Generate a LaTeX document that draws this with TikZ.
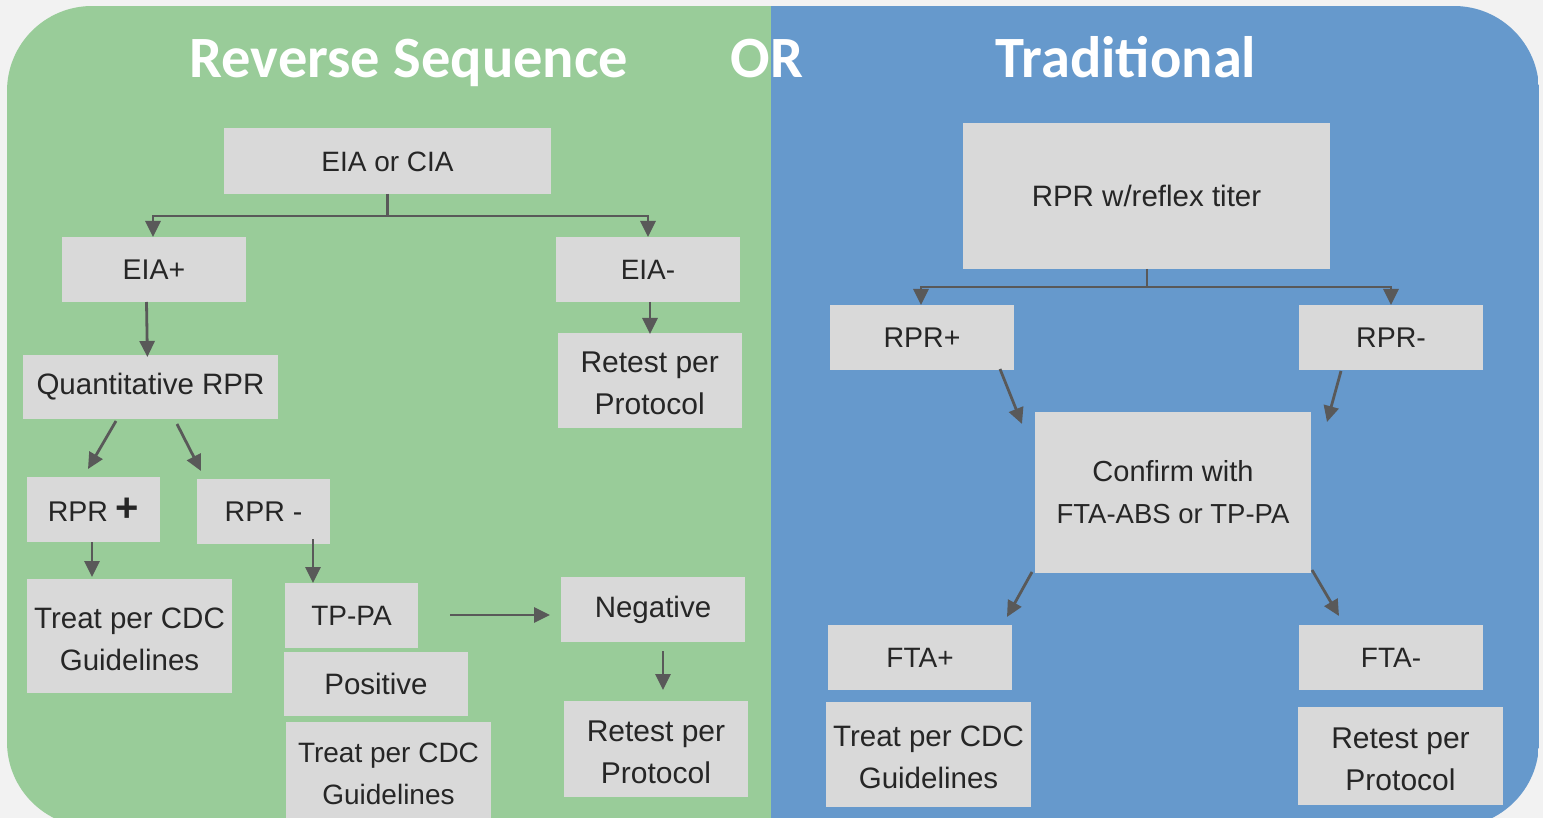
\documentclass[tikz,border=0pt]{standalone}
\usepackage{fontspec}
\setmainfont{Liberation Sans}
\newfontfamily\titlefont{Carlito}
\usetikzlibrary{arrows.meta}

\definecolor{pagebg}{HTML}{F2F2F2}
\definecolor{panelgreen}{HTML}{99CC99}
\definecolor{panelblue}{HTML}{6699CC}
\definecolor{boxfill}{HTML}{D9D9D9}
\definecolor{boxtext}{HTML}{262626}
\definecolor{linkgrey}{HTML}{595959}

\newcommand\bxf[1]{\fontsize{#1}{42}\selectfont}
% taller first line, to set two-line texts a little lower in their boxes
\newcommand\toprow{\rule{0pt}{27pt}}

\tikzset{
  box/.style={fill=boxfill, text=boxtext, inner sep=0pt, align=center},
  arr/.style={draw=linkgrey, line width=2.8pt, -{Triangle[length=16pt,width=15pt]}},
  link/.style={draw=linkgrey, line width=2.8pt},
  heading/.style={text=white, font=\titlefont\bfseries\fontsize{58.5}{60}\selectfont, anchor=base, inner sep=0pt}
}

\begin{document}
\begin{tikzpicture}[x=1pt, y=-1pt]
\useasboundingbox (0,0) rectangle (1543,818);

% page and the two coloured panels
\fill[pagebg] (0,0) rectangle (1543,818);
\begin{scope}
  \clip[rounded corners=85pt] (7,6) rectangle (1539,827);
  \fill[panelgreen] (7,6) rectangle (771,827);
  \fill[panelblue] (771,6) rectangle (1539,827);
\end{scope}

% headings
\node[heading] (hrev) at (409,78) {Reverse Sequence};
\node[heading] (hor) at (767,78) {OR};
\node[heading] (htrad) at (1126,78) {Traditional};

% ---------- reverse sequence algorithm ----------
\node[box, minimum width=327pt, minimum height=66pt, font=\bxf{28}] (eia) at (387.5,161.5) {EIA or CIA};
\node[box, minimum width=184pt, minimum height=65pt, font=\bxf{28.5}] (eiap) at (154,269.5) {EIA+};
\node[box, minimum width=184pt, minimum height=65pt, font=\bxf{28}] (eiam) at (648,269.5) {EIA-};
\node[box, minimum width=255pt, minimum height=64pt, font=\bxf{29.5}] (quant) at (150.5,387) {Quantitative RPR};
\node[box, minimum width=183.5pt, minimum height=95pt, font=\bxf{30}] (retestA) at (649.75,380.5) {\toprow Retest per\\Protocol};
\node[box, minimum width=133pt, minimum height=65pt, font=\bxf{28.5}] (rprpos) at (93.5,509.5) {RPR {\fontsize{40}{42}\selectfont\bfseries +}};
\node[box, minimum width=133pt, minimum height=65pt, font=\bxf{28.5}] (rprneg) at (263.5,511.5) {RPR -};
\node[box, minimum width=205pt, minimum height=114pt, font=\bxf{29.5}] (treatA) at (129.5,636) {\toprow Treat per CDC\\Guidelines};
\node[box, minimum width=133pt, minimum height=65pt, font=\bxf{28}] (tppa) at (351.5,615.5) {TP-PA};
\node[box, minimum width=184pt, minimum height=64pt, font=\bxf{29.5}] (pos) at (376,684) {Positive};
\node[box, minimum width=205pt, minimum height=103pt, font=\bxf{28}] (treatB) at (388.5,773.5) {Treat per CDC\\Guidelines};
\node[box, minimum width=184pt, minimum height=65pt, font=\bxf{29.5}] (neg) at (653,609.5) {Negative};
\node[box, minimum width=184pt, minimum height=96pt, font=\bxf{30}] (retestB) at (656,749) {\toprow Retest per\\Protocol};

% bracket below the screening test
\coordinate (eiaTop) at (387.5,194);
\coordinate (eiaMid) at (387.5,216);
\coordinate (eiaL) at (153,237);
\coordinate (eiaR) at (648,237);
\draw[link] (eiaTop) -- (eiaMid);
\draw[arr] (eiaMid) -| (eiaL);
\draw[arr] (eiaMid) -| (eiaR);

% arrows of the reverse sequence
\coordinate (a1s) at (146.5,302); \coordinate (a1e) at (147.4,357);
\coordinate (a2s) at (650,302);   \coordinate (a2e) at (650,334);
\coordinate (a3s) at (116,421);   \coordinate (a3e) at (88,469);
\coordinate (a4s) at (177,424);   \coordinate (a4e) at (201,471);
\coordinate (a5s) at (92,542);    \coordinate (a5e) at (92,577);
\coordinate (a6s) at (313,539);   \coordinate (a6e) at (313,583);
\coordinate (a7s) at (450,615);   \coordinate (a7e) at (550,615);
\coordinate (a8s) at (663,651);   \coordinate (a8e) at (663,690);
\draw[arr] (a1s) -- (a1e);
\draw[arr] (a2s) -- (a2e);
\draw[arr] (a3s) -- (a3e);
\draw[arr] (a4s) -- (a4e);
\draw[arr] (a5s) -- (a5e);
\draw[arr] (a6s) -- (a6e);
\draw[arr] (a7s) -- (a7e);
\draw[arr] (a8s) -- (a8e);

% ---------- traditional algorithm ----------
\node[box, minimum width=367pt, minimum height=146pt, font=\bxf{29.5}] (rprt) at (1146.5,196) {RPR w/reflex titer};
\node[box, minimum width=184pt, minimum height=65pt, font=\bxf{28.5}] (rprposT) at (922,337.5) {RPR+};
\node[box, minimum width=184pt, minimum height=65pt, font=\bxf{28.5}] (rprnegT) at (1391,337.5) {RPR-};
\node[box, minimum width=276pt, minimum height=161pt, font=\bxf{29}] (confirm) at (1173,492.5) {Confirm with\\{\fontsize{27.5}{42}\selectfont FTA-ABS or TP-PA}};
\node[box, minimum width=184pt, minimum height=65pt, font=\bxf{28}] (ftapos) at (920,657.5) {FTA+};
\node[box, minimum width=184pt, minimum height=65pt, font=\bxf{28}] (ftaneg) at (1391,657.5) {FTA-};
\node[box, minimum width=205pt, minimum height=105pt, font=\bxf{29.5}] (treatC) at (928.5,754.5) {\toprow Treat per CDC\\Guidelines};
\node[box, minimum width=205pt, minimum height=98pt, font=\bxf{30}] (retestC) at (1400.5,756) {\toprow Retest per\\Protocol};

% bracket below the RPR
\coordinate (rprTop) at (1147,269);
\coordinate (rprMid) at (1147,287);
\coordinate (rprL) at (921,305);
\coordinate (rprR) at (1391,305);
\draw[link] (rprTop) -- (rprMid);
\draw[arr] (rprMid) -| (rprL);
\draw[arr] (rprMid) -| (rprR);

% arrows of the traditional algorithm
\coordinate (b1s) at (1000,369);  \coordinate (b1e) at (1022,424);
\coordinate (b2s) at (1341,371);  \coordinate (b2e) at (1327,422);
\coordinate (b3s) at (1032,572);  \coordinate (b3e) at (1007,617);
\coordinate (b4s) at (1312,570);  \coordinate (b4e) at (1339,616);
\draw[arr] (b1s) -- (b1e);
\draw[arr] (b2s) -- (b2e);
\draw[arr] (b3s) -- (b3e);
\draw[arr] (b4s) -- (b4e);
\end{tikzpicture}
\end{document}
